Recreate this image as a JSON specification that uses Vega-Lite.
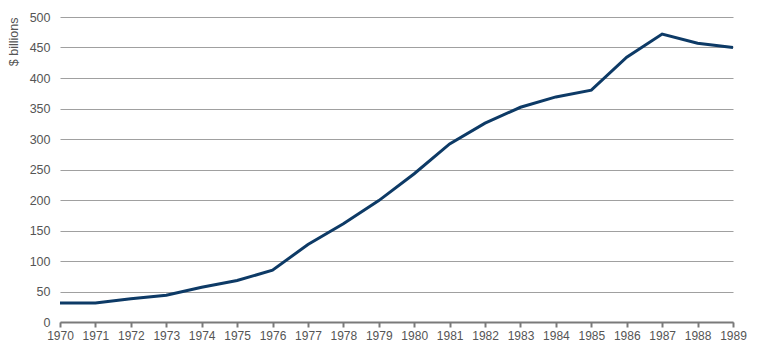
{
  "$schema": "https://vega.github.io/schema/vega-lite/v6.json",
  "autosize": {"type": "none"},
  "width": 673,
  "height": 305,
  "padding": {"left": 60, "top": 17, "right": 37, "bottom": 36},
  "background": "white",
  "data": {"values": [
    {"year": 1970, "value": 31},
    {"year": 1971, "value": 31},
    {"year": 1972, "value": 38},
    {"year": 1973, "value": 44},
    {"year": 1974, "value": 57},
    {"year": 1975, "value": 68},
    {"year": 1976, "value": 85},
    {"year": 1977, "value": 127},
    {"year": 1978, "value": 161},
    {"year": 1979, "value": 199},
    {"year": 1980, "value": 243},
    {"year": 1981, "value": 292},
    {"year": 1982, "value": 326},
    {"year": 1983, "value": 352},
    {"year": 1984, "value": 369},
    {"year": 1985, "value": 380},
    {"year": 1986, "value": 434},
    {"year": 1987, "value": 472},
    {"year": 1988, "value": 457},
    {"year": 1989, "value": 450}
  ]},
  "config": {
    "view": {"stroke": null},
    "font": "Liberation Sans"
  },
  "mark": {"type": "line", "color": "#0d3a66", "strokeWidth": 3, "strokeJoin": "miter"},
  "encoding": {
    "x": {
      "field": "year", "type": "quantitative",
      "scale": {"domain": [1970, 1989], "nice": false, "zero": false},
      "axis": {
        "title": null,
        "values": [1970,1971,1972,1973,1974,1975,1976,1977,1978,1979,1980,1981,1982,1983,1984,1985,1986,1987,1988,1989],
        "format": "d",
        "grid": false,
        "domainColor": "#7a7a7a",
        "domainWidth": 2,
        "tickColor": "#7a7a7a",
        "tickWidth": 2,
        "tickSize": 5,
        "labelFontSize": 12,
        "labelColor": "#555555",
        "labelPadding": 3,
        "labelFlush": false,
        "labelOverlap": false
      }
    },
    "y": {
      "field": "value", "type": "quantitative",
      "scale": {"domain": [0, 500], "nice": false},
      "axis": {
        "title": "$ billions",
        "titleFontWeight": "normal",
        "titleFontSize": 12.5,
        "titleColor": "#555555",
        "titleAnchor": "end",
        "titlePadding": 9,
        "values": [0,50,100,150,200,250,300,350,400,450,500],
        "domain": false,
        "ticks": false,
        "grid": true,
        "gridColor": "#a0a0a0",
        "gridWidth": 1.2,
        "labelFontSize": 12.5,
        "labelColor": "#555555",
        "labelPadding": 10
      }
    }
  }
}
